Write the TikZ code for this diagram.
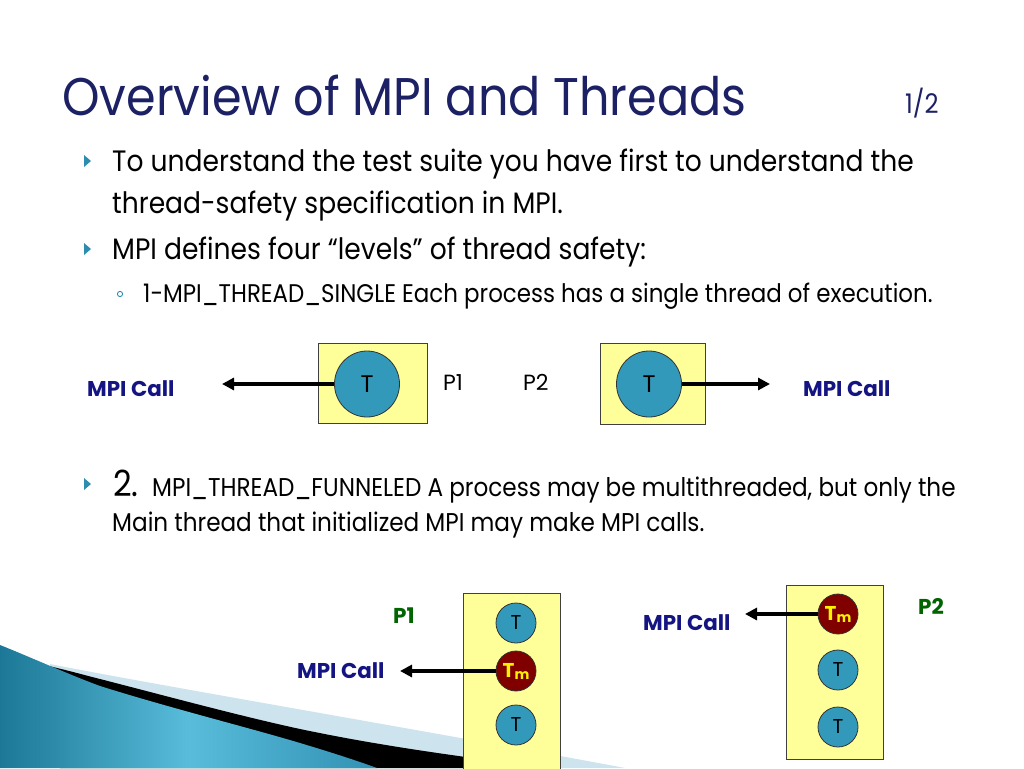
\documentclass[tikz,border=0pt]{standalone}
\usepackage{fontspec}
\setmainfont[FakeStretch=0.9]{Poppins}
\newfontfamily\labelfont{Poppins}
\usetikzlibrary{arrows.meta,shapes.geometric}
\definecolor{titlenavy}{RGB}{28,32,100}
\definecolor{callnavy}{RGB}{20,20,130}
\definecolor{pgreen}{RGB}{0,100,0}
\definecolor{boxyellow}{RGB}{255,255,153}
\definecolor{thteal}{RGB}{51,153,187}
\definecolor{thred}{RGB}{128,0,0}
\definecolor{bullteal}{RGB}{46,140,175}
\definecolor{swdark}{RGB}{28,120,150}
\definecolor{swlight}{RGB}{88,188,218}
\definecolor{swmid}{RGB}{50,145,180}
\definecolor{swpale}{RGB}{205,228,238}
\tikzset{
  bodytext/.style={anchor=base west,inner sep=0pt,font=\fontsize{29.5}{32}\selectfont},
  subtext/.style={anchor=base west,inner sep=0pt,font=\fontsize{25.5}{28}\selectfont},
  midtext/.style={anchor=base west,inner sep=0pt,font=\fontsize{25.7}{28}\selectfont},
  procbox/.style={draw=black!75,line width=0.8pt,fill=boxyellow},
  bigthread/.style={ellipse,draw=black!80,line width=0.8pt,fill=thteal,minimum width=65,minimum height=66,inner sep=0pt,font=\labelfont\fontsize{24}{24}\selectfont},
  thread/.style={circle,draw=black!80,line width=0.8pt,fill=thteal,minimum size=40,inner sep=0pt,font=\labelfont\fontsize{20}{20}\selectfont},
  mainthread/.style={circle,draw=black!80,line width=0.8pt,fill=thred,minimum size=40,inner sep=0pt,text=yellow,font=\labelfont\bfseries\fontsize{20}{20}\selectfont},
  calllabel/.style={anchor=base west,inner sep=0pt,text=callnavy,font=\labelfont\bfseries\fontsize{21.4}{22}\selectfont},
  plabel/.style={anchor=base west,inner sep=0pt,font=\labelfont\fontsize{22}{22}\selectfont},
  gplabel/.style={anchor=base west,inner sep=0pt,text=pgreen,font=\labelfont\bfseries\fontsize{21.5}{22}\selectfont},
  callarrow/.style={line width=3.4pt,-{Triangle[length=12pt,width=12pt]}},
  bullet/.style={fill=bullteal}
}
\begin{document}
\begin{tikzpicture}[x=1pt,y=-1pt]
\useasboundingbox (0,0) rectangle (1024,768);
\clip (0,0) rectangle (1024,768);
\fill[white] (0,0) rectangle (1024,768);

% bottom-left swoosh
\fill[swpale] (50,664) .. controls (150,684) and (450,735) .. (625,768) -- (60,768) -- cycle;
\fill[black] (30,662) .. controls (60,668) and (80,674) .. (100,679) .. controls (170,697) and (240,716) .. (300,729) .. controls (400,750) and (480,758) .. (540,768) -- (60,768) -- cycle;
\shade[left color=swdark,right color=swmid,middle color=swlight] (0,645) .. controls (30,657) and (70,675) .. (100,686) .. controls (170,708) and (250,728) .. (300,743) .. controls (330,752) and (355,760) .. (377,768) -- (0,768) -- cycle;

% title
\node[anchor=base west,inner sep=0pt,text=titlenavy,font=\fontsize{53}{58}\selectfont] (title) at (62,115) {Overview of MPI and Threads};
\node[anchor=base west,inner sep=0pt,text=titlenavy,font=\fontsize{27}{28}\selectfont] (page) at (905,113) {1/2};

% bullets
\fill[bullet] (84,155) -- (91,161) -- (84,167) -- cycle;
\node[bodytext] (l1) at (112,171) {To understand the test suite you have first to understand the};
\node[bodytext] (l2) at (112,213) {thread-safety specification in MPI.};
\fill[bullet] (84,243) -- (91,249) -- (84,255) -- cycle;
\node[bodytext] (l3) at (112,259) {MPI defines four “levels” of thread safety:};
\draw[bullteal,line width=0.9pt] (120,294) circle (2.6);
\node[subtext] (l4) at (143,302) {1-MPI\_THREAD\_SINGLE Each process has a single thread of execution.};

% diagram 1
\node[procbox,minimum width=109,minimum height=80,inner sep=0pt] (b1) at (372.5,383) {};
\node[bigthread] (t1) at (367,384) {T};
\node[procbox,minimum width=105,minimum height=81,inner sep=0pt] (b2) at (653,383.5) {};
\node[bigthread] (t2) at (649,384) {T};
\coordinate (e1) at (222,384);
\coordinate (e2) at (770,384);
\draw[callarrow] (t1.west) -- (e1);
\draw[callarrow] (t2.east) -- (e2);
\node[calllabel] (c1) at (87,396) {MPI Call};
\node[calllabel] (c2) at (803,396) {MPI Call};
\node[plabel] (p1) at (443,390) {P1};
\node[plabel] (p2) at (523,390) {P2};

% bullet 3
\fill[bullet] (84,478) -- (91,484) -- (84,490) -- cycle;
\node[anchor=base west,inner sep=0pt,font=\fontsize{36}{40}\selectfont] (two) at (113,496) {2.};
\node[midtext] (l5) at (152,496) {MPI\_THREAD\_FUNNELED A process may be multithreaded, but only the};
\node[midtext] (l6) at (112,531) {Main thread that initialized MPI may make MPI calls.};

% diagram 2, P1
\node[procbox,minimum width=97,minimum height=190,inner sep=0pt] (b3) at (511.5,688) {};
\node[thread] (a1) at (516,623) {T};
\node[mainthread] (am) at (516,671) {T\raisebox{-2pt}{\fontsize{14}{14}\selectfont m}};
\node[thread] (a3) at (516,725) {T};
\coordinate (e3) at (400,671);
\draw[callarrow] (am.west) -- (e3);
\node[calllabel] (c3) at (297,678) {MPI Call};
\node[gplabel] (g1) at (393,623) {P1};

% diagram 2, P2
\node[procbox,minimum width=97,minimum height=174,inner sep=0pt] (b4) at (834.5,672) {};
\node[mainthread] (bm) at (838,614) {T\raisebox{-2pt}{\fontsize{14}{14}\selectfont m}};
\node[thread] (b5) at (838,670) {T};
\node[thread] (b6) at (838,727) {T};
\coordinate (e4) at (745,614);
\draw[callarrow] (bm.west) -- (e4);
\node[calllabel] (c4) at (643,630) {MPI Call};
\node[gplabel] (g2) at (918,614) {P2};
\end{tikzpicture}
\end{document}
